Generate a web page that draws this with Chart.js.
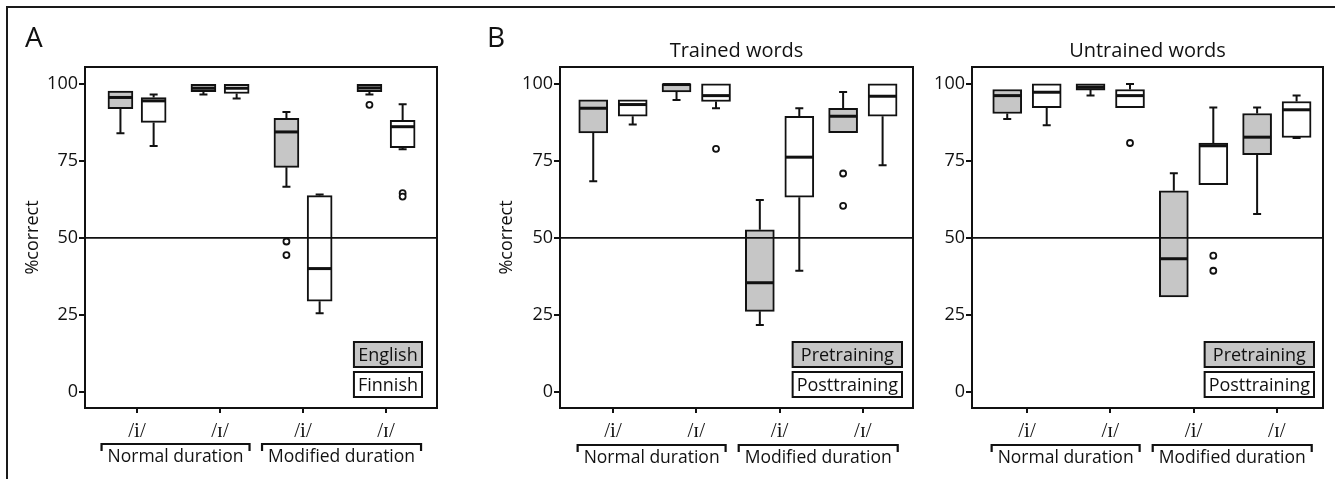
<!DOCTYPE html>
<html><head><meta charset="utf-8">
<script src="https://cdn.jsdelivr.net/npm/chart.js@4"></script>
<style>
html,body{margin:0;padding:0;background:#fff;}
#wrap{position:relative;width:1335px;height:479px;overflow:hidden;background:#fff;}
#frame{position:absolute;left:6px;top:6px;width:1400px;height:600px;border-left:2px solid #1a1a1a;border-top:2px solid #1a1a1a;}
canvas{position:absolute;top:0;}
</style></head><body>
<div id="wrap"><div id="frame"></div>
<canvas id="cA" width="450" height="479" style="left:0px"></canvas>
<canvas id="cB1" width="480" height="479" style="left:450px"></canvas>
<canvas id="cB2" width="405" height="479" style="left:930px"></canvas>
</div>
<script>
// ---------- data ----------
const categories = ['/i/', '/ɪ/', '/i/', '/ɪ/'];
const durationGroups = ['Normal duration', 'Modified duration'];
const yTickValues = [0, 25, 50, 75, 100];
const chanceLevel = 50;

// Panel A: English listeners
const aEnglishMin = [84.0, 96.6, 66.6, 96.6];
const aEnglishQ1  = [92.0, 97.5, 72.9, 97.5];
const aEnglishMed = [95.6, 98.6, 84.4, 98.7];
const aEnglishQ3  = [97.7, 99.9, 88.8, 99.9];
const aEnglishMax = [97.7, 99.9, 90.9, 99.9];
const aEnglishOut = [[], [], [48.8, 44.4], [93.2]];
// Panel A: Finnish listeners
const aFinnishMin = [79.8, 95.3, 25.5, 78.8];
const aFinnishQ1  = [87.5, 96.9, 29.4, 79.3];
const aFinnishMed = [94.5, 98.6, 40.0, 86.1];
const aFinnishQ3  = [95.6, 99.9, 63.7, 88.2];
const aFinnishMax = [96.6, 99.9, 64.1, 93.4];
const aFinnishOut = [[], [], [], [64.5, 63.4]];

// Panel B: trained words, pretraining
const tPreMin = [68.4, 94.8, 21.7, 84.2];
const tPreQ1  = [84.1, 97.4, 26.1, 84.2];
const tPreMed = [92.1, 99.8, 35.4, 89.5];
const tPreQ3  = [94.8, 100.0, 52.6, 92.1];
const tPreMax = [94.8, 100.0, 62.3, 97.4];
const tPreOut = [[], [], [], [70.9, 60.4]];
// Panel B: trained words, posttraining
const tPostMin = [86.8, 92.1, 39.3, 73.6];
const tPostQ1  = [89.5, 94.3, 63.2, 89.5];
const tPostMed = [93.3, 96.2, 76.2, 96.0];
const tPostQ3  = [94.8, 100.0, 89.5, 100.0];
const tPostMax = [94.8, 100.0, 92.1, 100.0];
const tPostOut = [[], [78.9], [], []];

// Panel B: untrained words, pretraining
const uPreMin = [88.6, 96.2, 30.8, 57.7];
const uPreQ1  = [90.4, 98.0, 30.8, 77.0];
const uPreMed = [96.2, 98.9, 43.2, 82.7];
const uPreQ3  = [98.2, 100.0, 65.3, 90.4];
const uPreMax = [98.2, 100.0, 71.0, 92.3];
const uPreOut = [[], [], [], []];
// Panel B: untrained words, posttraining
const uPostMin = [86.6, 92.3, 67.3, 82.4];
const uPostQ1  = [92.3, 92.3, 67.3, 82.6];
const uPostMed = [97.3, 96.2, 79.9, 91.6];
const uPostQ3  = [100.0, 98.2, 80.8, 94.3];
const uPostMax = [100.0, 100.0, 92.3, 96.2];
const uPostOut = [[], [80.8], [44.2, 39.3], []];

// ---------- styling / helpers ----------
const FONT = '"Open Sans", "Noto Sans", sans-serif';
const SERIF = '"Liberation Serif", "DejaVu Serif", serif';
const INK = '#111';
const GRAY = '#c6c6c6';

const boxPlugin = {
  id: 'boxExtras',
  afterDatasetsDraw(chart) {
    const ctx = chart.ctx, xs = chart.scales.x, ys = chart.scales.y, ca = chart.chartArea;
    const cfg = chart.options.plugins.boxExtras;
    ctx.save();
    ctx.strokeStyle = INK;
    chart.data.datasets.forEach(ds => {
      if (!ds.stats) return;
      const st = ds.stats;
      st.x.forEach((xv, i) => {
        const px = xs.getPixelForValue(xv);
        const half = ds.barThickness / 2;
        ctx.lineWidth = 2;
        ctx.beginPath();
        if (st.max[i] > st.q3[i]) {
          ctx.moveTo(px, ys.getPixelForValue(st.q3[i]));
          ctx.lineTo(px, ys.getPixelForValue(st.max[i]));
          ctx.moveTo(px - 4, ys.getPixelForValue(st.max[i]));
          ctx.lineTo(px + 4, ys.getPixelForValue(st.max[i]));
        }
        if (st.min[i] < st.q1[i]) {
          ctx.moveTo(px, ys.getPixelForValue(st.q1[i]));
          ctx.lineTo(px, ys.getPixelForValue(st.min[i]));
          ctx.moveTo(px - 4, ys.getPixelForValue(st.min[i]));
          ctx.lineTo(px + 4, ys.getPixelForValue(st.min[i]));
        }
        ctx.stroke();
        ctx.lineWidth = 3;
        ctx.beginPath();
        const my = ys.getPixelForValue(st.med[i]);
        ctx.moveTo(px - half + 0.5, my);
        ctx.lineTo(px + half - 0.5, my);
        ctx.stroke();
      });
    });
    // chance line
    ctx.lineWidth = 1.7;
    ctx.beginPath();
    const cy = ys.getPixelForValue(chanceLevel);
    ctx.moveTo(ca.left, cy); ctx.lineTo(ca.right, cy);
    ctx.stroke();
    // plot frame
    ctx.lineWidth = 2;
    ctx.strokeRect(ca.left, ca.top, ca.right - ca.left, ca.bottom - ca.top);
    // legend
    const series = chart.data.datasets.filter(d => d.stats);
    ctx.font = '18px ' + FONT;
    const w = Math.max(...series.map(s => ctx.measureText(s.label).width)) + 8;
    const h = 25, gap = 5;
    const right = ca.right - cfg.legendRight;
    let top = ca.bottom - 11 - 2 * h - gap;
    series.forEach(s => {
      ctx.fillStyle = s.backgroundColor;
      ctx.fillRect(right - w, top, w, h);
      ctx.lineWidth = 2;
      ctx.strokeRect(right - w, top, w, h);
      ctx.fillStyle = INK;
      ctx.textAlign = 'center';
      ctx.textBaseline = 'middle';
      ctx.fillText(s.label, right - w / 2, top + h / 2 + 1);
      top += h + gap;
    });
    ctx.restore();
  },
  afterDraw(chart) {
    const ctx = chart.ctx, xs = chart.scales.x, ca = chart.chartArea;
    const cfg = chart.options.plugins.boxExtras;
    ctx.save();
    ctx.fillStyle = INK; ctx.strokeStyle = INK;
    ctx.font = '17.5px ' + FONT;
    ctx.textAlign = 'center'; ctx.textBaseline = 'alphabetic';
    durationGroups.forEach((g, gi) => {
      const p1 = xs.getPixelForValue(gi * 2 + 1), p2 = xs.getPixelForValue(gi * 2 + 2);
      const cx = (p1 + p2) / 2 - 3;
      const tw = ctx.measureText(g).width;
      const l = cx - tw / 2 - 6, r = cx + tw / 2 + 6;
      ctx.lineWidth = 2.2;
      ctx.beginPath();
      ctx.moveTo(l, cfg.bracketY + 7); ctx.lineTo(l, cfg.bracketY);
      ctx.lineTo(r, cfg.bracketY); ctx.lineTo(r, cfg.bracketY + 7);
      ctx.stroke();
      ctx.fillText(g, cx, cfg.bracketY + 18);
    });
    if (cfg.letter) {
      ctx.font = '28px ' + FONT;
      ctx.textAlign = 'left';
      ctx.fillText(cfg.letter, cfg.letterX, 47);
    }
    if (cfg.title) {
      ctx.font = '20px ' + FONT;
      ctx.textAlign = 'center';
      ctx.fillText(cfg.title, (ca.left + ca.right) / 2, 57);
    }
    ctx.restore();
  }
};

function seriesDatasets(s, offset, thickness) {
  const xv = categories.map((c, i) => i + 1 + offset);
  const box = {
    type: 'bar',
    label: s.label,
    data: categories.map((c, i) => ({x: xv[i], y: [s.q1[i], s.q3[i]]})),
    backgroundColor: s.fill,
    borderColor: INK,
    borderWidth: 2,
    borderSkipped: false,
    barThickness: thickness,
    grouped: false,
    stats: {x: xv, min: s.min, q1: s.q1, med: s.med, q3: s.q3, max: s.max},
    order: 2
  };
  const pts = [];
  s.out.forEach((arr, i) => arr.forEach(v => pts.push({x: xv[i], y: v})));
  const outl = {
    type: 'scatter',
    label: s.label + ' outliers',
    data: pts,
    pointRadius: 3,
    pointBackgroundColor: '#fff',
    pointBorderColor: INK,
    pointBorderWidth: 1.8,
    order: 1
  };
  return [box, outl];
}

function makeChart(id, p) {
  const datasets = [
    ...seriesDatasets(p.series[0], -p.pairOffset, p.thickness),
    ...seriesDatasets(p.series[1], p.pairOffset, p.thickness)
  ];
  return new Chart(document.getElementById(id), {
    type: 'bar',
    data: {datasets},
    plugins: [boxPlugin],
    options: {
      responsive: false,
      animation: false,
      devicePixelRatio: 1,
      layout: {padding: {left: 0, top: 67, right: p.rightPad, bottom: 0}},
      plugins: {
        legend: {display: false},
        tooltip: {enabled: false},
        boxExtras: {legendRight: p.legendRight, bracketY: p.bracketY, letter: p.letter, letterX: p.letterX, title: p.title}
      },
      scales: {
        x: {
          type: 'linear', min: p.xMin, max: p.xMax, offset: false,
          grid: {offset: false, drawOnChartArea: false, drawTicks: true, tickLength: 5, color: INK, lineWidth: 2},
          border: {display: false},
          afterBuildTicks: sc => { sc.ticks = categories.map((c, i) => ({value: i + 1})); },
          afterFit: sc => { sc.height = 479 - 408; },
          ticks: {
            autoSkip: false, maxRotation: 0, padding: 6, color: INK,
            font: {family: SERIF, size: 21},
            callback: v => categories[v - 1]
          }
        },
        y: {
          type: 'linear', min: -5.3, max: 105.5,
          grid: {drawOnChartArea: false, drawTicks: true, tickLength: 6, color: INK, lineWidth: 2},
          border: {display: false},
          afterBuildTicks: sc => { sc.ticks = yTickValues.map(v => ({value: v})); },
          afterFit: sc => { sc.width = p.yWidth; },
          ticks: {padding: 1, color: INK, font: {family: FONT, size: 18}},
          title: {display: !!p.yTitle, text: p.yTitle || '', color: INK, font: {family: FONT, size: 18}, padding: {top: p.yTitlePad, bottom: 0}}
        }
      }
    }
  });
}

makeChart('cA', {
  series: [
    {label: 'English', fill: GRAY, min: aEnglishMin, q1: aEnglishQ1, med: aEnglishMed, q3: aEnglishQ3, max: aEnglishMax, out: aEnglishOut},
    {label: 'Finnish', fill: '#fff', min: aFinnishMin, q1: aFinnishQ1, med: aFinnishMed, q3: aFinnishQ3, max: aFinnishMax, out: aFinnishOut}
  ],
  pairOffset: 0.2, thickness: 25, xMin: 0.373, xMax: 4.614,
  yWidth: 85, rightPad: 13, yTitle: '%correct', yTitlePad: 22,
  legendRight: 15, bracketY: 444, letter: 'A', letterX: 25
});
makeChart('cB1', {
  series: [
    {label: 'Pretraining', fill: GRAY, min: tPreMin, q1: tPreQ1, med: tPreMed, q3: tPreQ3, max: tPreMax, out: tPreOut},
    {label: 'Posttraining', fill: '#fff', min: tPostMin, q1: tPostQ1, med: tPostMed, q3: tPostQ3, max: tPostMax, out: tPostOut}
  ],
  pairOffset: 0.237, thickness: 29, xMin: 0.364, xMax: 4.602,
  yWidth: 110, rightPad: 17, yTitle: '%correct', yTitlePad: 46,
  legendRight: 11, bracketY: 445, letter: 'B', letterX: 37, title: 'Trained words'
});
makeChart('cB2', {
  series: [
    {label: 'Pretraining', fill: GRAY, min: uPreMin, q1: uPreQ1, med: uPreMed, q3: uPreQ3, max: uPreMax, out: uPreOut},
    {label: 'Posttraining', fill: '#fff', min: uPostMin, q1: uPostQ1, med: uPostMed, q3: uPostQ3, max: uPostMax, out: uPostOut}
  ],
  pairOffset: 0.237, thickness: 29, xMin: 0.34, xMax: 4.554,
  yWidth: 42, rightPad: 12, yTitle: '', yTitlePad: 0,
  legendRight: 9, bracketY: 445, title: 'Untrained words'
});
</script>
</body></html>
